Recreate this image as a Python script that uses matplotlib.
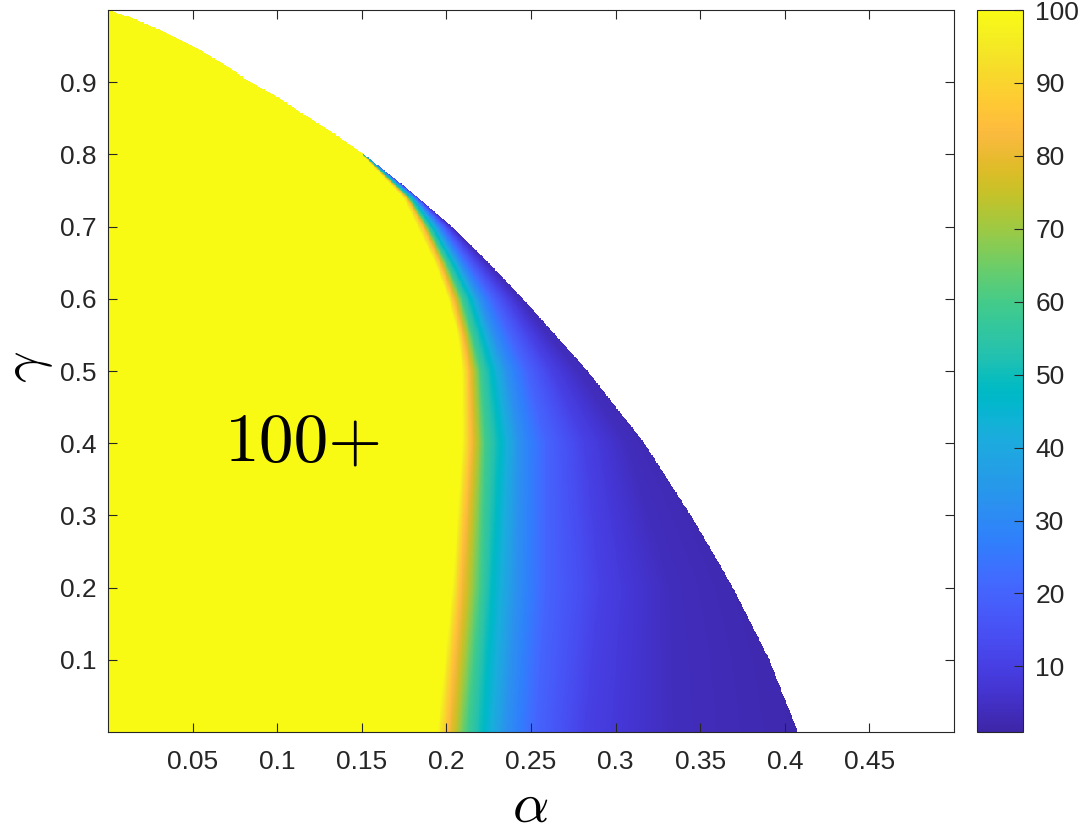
import numpy as np
import matplotlib
matplotlib.use('Agg')
from matplotlib import pyplot as plt
from matplotlib.colors import LinearSegmentedColormap
from matplotlib.ticker import FormatStrFormatter

plt.rcParams['font.family'] = ['Liberation Sans', 'DejaVu Sans']
plt.rcParams['mathtext.fontset'] = 'cm'

# Outer edge of the coloured region (alpha where the data stops)
bnd_gamma = [0.0, 0.1, 0.2, 0.3, 0.4, 0.5, 0.6, 0.65, 0.7, 0.75, 0.797,
             0.830, 0.859, 0.880, 0.903, 0.917, 0.945, 0.968, 0.989, 1.0]
bnd_alpha = [0.4078, 0.3910, 0.3694, 0.3445, 0.3170, 0.2835, 0.2453, 0.2250, 0.2033, 0.1785, 0.1531,
             0.1330, 0.1135, 0.0999, 0.0821, 0.0739, 0.0544, 0.0349, 0.0148, 0.0]

# Colour levels and the alpha where each level is reached, per gamma row
levels = [100, 85, 60, 48, 32, 20, 10, 4]
row_gamma = [0.0, 0.2, 0.4, 0.5, 0.55, 0.6, 0.65, 0.7, 0.74, 0.8, 0.87, 1.0]
level_alpha = [
    [0.1944, 0.2004, 0.2122, 0.2216, 0.2358, 0.2535, 0.2831, 0.3350],
    [0.2033, 0.2080, 0.2199, 0.2270, 0.2417, 0.2595, 0.2925, 0.3320],
    [0.2092, 0.2140, 0.2228, 0.2317, 0.2435, 0.2595, 0.2830, 0.3067],
    [0.2092, 0.2130, 0.2200, 0.2265, 0.2360, 0.2480, 0.2630, 0.2780],
    [0.2065, 0.2095, 0.2150, 0.2205, 0.2280, 0.2380, 0.2500, 0.2600],
    [0.2010, 0.2039, 0.2092, 0.2140, 0.2199, 0.2275, 0.2364, 0.2430],
    [0.1930, 0.1960, 0.2000, 0.2035, 0.2080, 0.2130, 0.2190, 0.2235],
    [0.1826, 0.1862, 0.1891, 0.1915, 0.1950, 0.1980, 0.2010, 0.2030],
    [0.1745, 0.1765, 0.1780, 0.1795, 0.1810, 0.1822, 0.1832, 0.1838],
    [0.1500, 0.1504, 0.1508, 0.1512, 0.1516, 0.1520, 0.1524, 0.1528],
    [0.5, 0.5, 0.5, 0.5, 0.5, 0.5, 0.5, 0.5],
    [0.5, 0.5, 0.5, 0.5, 0.5, 0.5, 0.5, 0.5],
]
# value right at the outer edge, per gamma row
edge_value = [2, 2.5, 3, 3.5, 3.8, 4, 5, 6, 8, 12, 20, 20]

# parula (MATLAB default colormap)
parula = LinearSegmentedColormap.from_list('parula', [
    [0.2422, 0.1504, 0.6603], [0.2504, 0.1650, 0.7076], [0.2578, 0.1818, 0.7511],
    [0.2647, 0.1978, 0.7952], [0.2706, 0.2147, 0.8364], [0.2751, 0.2342, 0.8710],
    [0.2783, 0.2559, 0.8991], [0.2803, 0.2782, 0.9221], [0.2813, 0.3006, 0.9414],
    [0.2810, 0.3228, 0.9579], [0.2795, 0.3447, 0.9717], [0.2760, 0.3667, 0.9829],
    [0.2699, 0.3892, 0.9906], [0.2602, 0.4123, 0.9952], [0.2440, 0.4358, 0.9988],
    [0.2206, 0.4603, 0.9973], [0.1963, 0.4847, 0.9892], [0.1834, 0.5074, 0.9798],
    [0.1786, 0.5289, 0.9682], [0.1764, 0.5499, 0.9520], [0.1687, 0.5703, 0.9359],
    [0.1540, 0.5902, 0.9218], [0.1460, 0.6091, 0.9079], [0.1380, 0.6276, 0.8973],
    [0.1248, 0.6459, 0.8883], [0.1113, 0.6635, 0.8763], [0.0952, 0.6798, 0.8598],
    [0.0689, 0.6948, 0.8394], [0.0297, 0.7082, 0.8163], [0.0036, 0.7203, 0.7917],
    [0.0067, 0.7312, 0.7660], [0.0433, 0.7411, 0.7394], [0.0964, 0.7500, 0.7120],
    [0.1408, 0.7584, 0.6842], [0.1717, 0.7670, 0.6554], [0.1938, 0.7758, 0.6251],
    [0.2161, 0.7843, 0.5923], [0.2470, 0.7918, 0.5567], [0.2906, 0.7973, 0.5188],
    [0.3406, 0.8008, 0.4789], [0.3909, 0.8029, 0.4354], [0.4456, 0.8024, 0.3909],
    [0.5044, 0.7993, 0.3480], [0.5616, 0.7942, 0.3045], [0.6174, 0.7876, 0.2612],
    [0.6720, 0.7793, 0.2227], [0.7242, 0.7698, 0.1910], [0.7738, 0.7598, 0.1646],
    [0.8203, 0.7498, 0.1535], [0.8634, 0.7406, 0.1596], [0.9035, 0.7330, 0.1774],
    [0.9393, 0.7288, 0.2100], [0.9728, 0.7298, 0.2394], [0.9956, 0.7434, 0.2371],
    [0.9970, 0.7659, 0.2199], [0.9952, 0.7893, 0.2028], [0.9892, 0.8136, 0.1885],
    [0.9786, 0.8386, 0.1766], [0.9676, 0.8639, 0.1643], [0.9610, 0.8890, 0.1537],
    [0.9597, 0.9135, 0.1423], [0.9628, 0.9373, 0.1265], [0.9691, 0.9606, 0.1064],
    [0.9769, 0.9839, 0.0805]], N=256)

# build the field on a grid from the rows read above
alpha = np.linspace(0, 0.5, 1000)
gamma = np.linspace(0, 1, 1000)
lev_tab = np.array(level_alpha)
Z = np.full((len(gamma), len(alpha)), np.nan)
for i, g in enumerate(gamma):
    b = np.interp(g, bnd_gamma, bnd_alpha)
    pos = np.array([np.interp(g, row_gamma, lev_tab[:, k]) for k in range(len(levels))])
    pos = np.maximum.accumulate(np.minimum(pos, b))
    ev = np.interp(g, row_gamma, edge_value)
    row = np.interp(alpha, np.append(pos, b), levels + [ev])
    row[alpha > b] = np.nan
    Z[i] = row

fig = plt.figure(figsize=(10.8, 8.34), dpi=100)
ax = fig.add_axes([0.1, 0.1223, 0.7833, 0.8657])
im = ax.imshow(np.ma.masked_invalid(Z), extent=[0, 0.5, 0, 1], origin='lower',
               aspect='auto', cmap=parula, vmin=1, vmax=100, interpolation='nearest')
ax.set_xlim(0, 0.5)
ax.set_ylim(0, 1)
ax.set_xticks(np.arange(0.05, 0.46, 0.05))
ax.set_yticks(np.arange(0.1, 0.91, 0.1))
ax.xaxis.set_major_formatter(FormatStrFormatter('%g'))
ax.yaxis.set_major_formatter(FormatStrFormatter('%g'))
ax.tick_params(direction='in', top=True, right=True, length=6.5, width=0.8,
               color='#262626', labelcolor='#262626', labelsize=19)
ax.tick_params(axis='x', pad=13)
ax.tick_params(axis='y', pad=8)
for s in ax.spines.values():
    s.set_color('#262626')
    s.set_linewidth(0.8)

ax.text(0.116, 0.40, '100+', fontsize=50, family='cmr10', ha='center', va='center')

fig.text(0.491, 0.0, r'$\alpha$', fontsize=41, ha='center', va='bottom')
fig.text(0.027, 0.56, r'$\gamma$', fontsize=40, ha='center', va='center', rotation=90)

cax = fig.add_axes([0.9046, 0.1223, 0.0426, 0.8657])
cb = fig.colorbar(im, cax=cax, ticks=range(10, 101, 10))
cb.ax.tick_params(direction='in', length=6.5, width=0.8, color='#262626',
                  labelcolor='#262626', labelsize=19, pad=9)
cb.outline.set_edgecolor('#262626')
cb.outline.set_linewidth(0.8)

plt.savefig('out.png', dpi=100)
